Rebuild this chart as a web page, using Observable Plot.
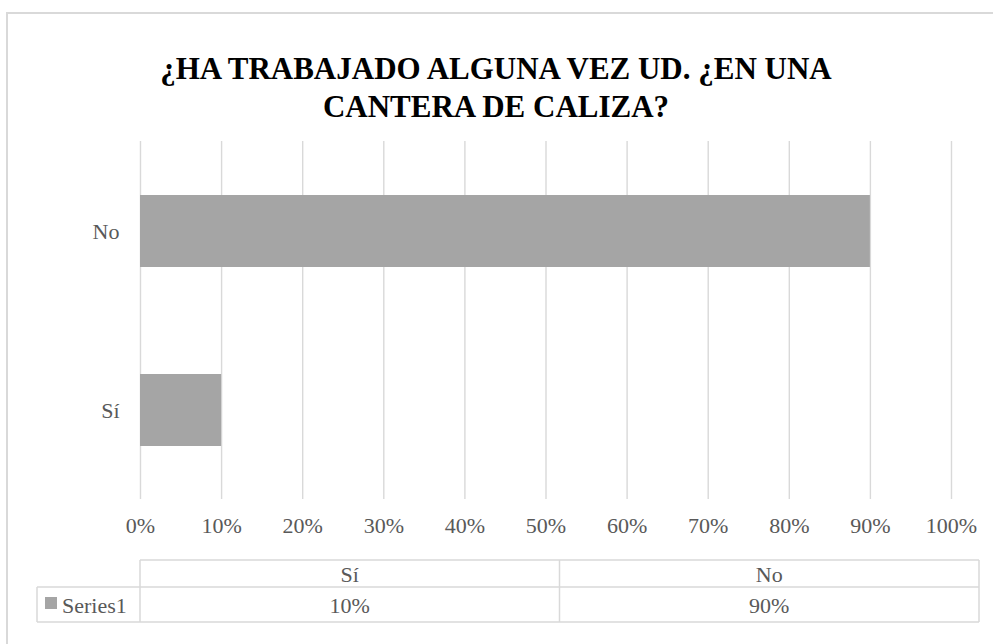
<!DOCTYPE html>
<html>
<head>
<meta charset="utf-8">
<script src="https://cdn.jsdelivr.net/npm/d3@7"></script>
<script src="https://cdn.jsdelivr.net/npm/@observablehq/plot@0.6"></script>
<style>
  html, body { margin: 0; padding: 0; background: #fff; overflow: hidden; }
  #wrap { position: relative; width: 993px; height: 644px; }
  #frame { position: absolute; left: 6px; top: 12px; width: 1100px; height: 800px; border: 2px solid #d9d9d9; box-sizing: border-box; }
  #chart { position: absolute; left: 0; top: 0; }
</style>
</head>
<body>
<div id="wrap"><div id="frame"></div><div id="chart"></div></div>
<script>
const titleLines = ["¿HA TRABAJADO ALGUNA VEZ UD. ¿EN UNA", "CANTERA DE CALIZA?"];
const categories = ["Sí", "No"];
const values = [0.10, 0.90];
const seriesName = "Series1";
const xTicks = [0, 0.1, 0.2, 0.3, 0.4, 0.5, 0.6, 0.7, 0.8, 0.9, 1.0];

const data = categories.map((c, i) => ({category: c, value: values[i]}));
const font = "Liberation Serif, Times New Roman, serif";
const textColor = "#595959";
const barColor = "#a5a5a5";
const gridColor = "#d9d9d9";
const pct = d3.format(".0%");

const W = 993, H = 644;
const plot = Plot.plot({
  width: W,
  height: H,
  marginTop: 141,
  marginBottom: 145,
  marginLeft: 140,
  marginRight: 42,
  style: {fontFamily: font, fontSize: "22px", color: textColor, background: "transparent", overflow: "visible"},
  x: {domain: [0, 1], ticks: xTicks, tickFormat: pct, tickSize: 0, tickPadding: 18, label: null},
  y: {domain: ["No", "Sí"], range: [141, 499], paddingInner: 0.6, paddingOuter: 0.3, tickSize: 0, tickPadding: 21, label: null},
  marks: [
    Plot.ruleX(xTicks, {stroke: gridColor, strokeWidth: 1.4}),
    Plot.barX(data, {y: "category", x: "value", fill: barColor})
  ]
});
document.getElementById("chart").appendChild(plot);

const svg = d3.select(plot);
// Title
const title = svg.append("text")
  .attr("text-anchor", "middle")
  .attr("font-family", font)
  .attr("font-weight", "bold")
  .attr("font-size", 31)
  .attr("fill", "#000");
titleLines.forEach((t, i) => {
  title.append("tspan").attr("x", 496).attr("y", 79 + i * 38).text(t);
});

// Data table
const tableLeft = 140, tableRight = 979, legendLeft = 37;
const rowTop = 560, rowMid = 587, rowBottom = 622;
const colW = (tableRight - tableLeft) / categories.length;
const g = svg.append("g").attr("font-family", font).attr("font-size", 22).attr("fill", textColor);
const line = (x1, y1, x2, y2) => g.append("line").attr("x1", x1).attr("y1", y1).attr("x2", x2).attr("y2", y2)
  .attr("stroke", gridColor).attr("stroke-width", 1.5);
line(tableLeft, rowTop, tableRight, rowTop);
line(legendLeft, rowMid, tableRight, rowMid);
line(legendLeft, rowBottom, tableRight, rowBottom);
line(legendLeft, rowMid, legendLeft, rowBottom);
line(tableLeft, rowTop, tableLeft, rowBottom);
categories.forEach((c, i) => {
  line(tableLeft + colW * (i + 1), rowTop, tableLeft + colW * (i + 1), rowBottom);
  g.append("text").attr("x", tableLeft + colW * (i + 0.5)).attr("y", 582).attr("text-anchor", "middle").text(c);
  g.append("text").attr("x", tableLeft + colW * (i + 0.5)).attr("y", 613).attr("text-anchor", "middle").text(pct(values[i]));
});
g.append("rect").attr("x", 45).attr("y", 597).attr("width", 12).attr("height", 12).attr("fill", barColor);
g.append("text").attr("x", 62).attr("y", 613).attr("text-anchor", "start").text(seriesName);
</script>
</body>
</html>
